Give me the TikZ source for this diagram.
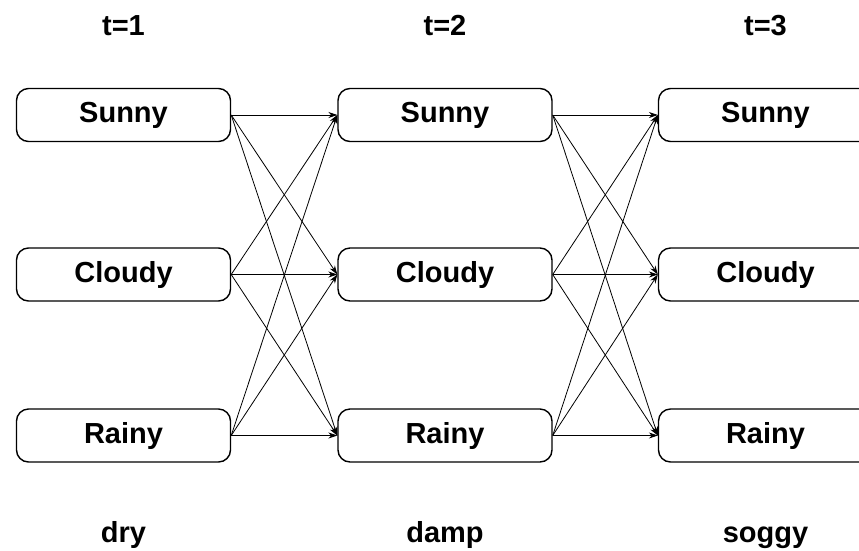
\documentclass[tikz,border=0pt]{standalone}
\usepackage{fontspec}
\setmainfont{Liberation Sans}
\usetikzlibrary{arrows.meta}
\begin{document}
\begin{tikzpicture}
        [x=1pt,y=-1pt,
         state/.style={draw,rounded corners=12pt,line width=1.4pt,
           minimum width=214pt,minimum height=53pt,inner sep=0pt,
           font=\bfseries\fontsize{29}{29}\selectfont},
         caption/.style={anchor=base,inner sep=0pt,
           font=\bfseries\fontsize{29}{29}\selectfont},
         trans/.style={-{Stealth[length=9pt,width=6pt]},line width=0.8pt}]
        \useasboundingbox (0,0) rectangle (859,550);
        \clip (0,0) rectangle (859,550);

        % one column of states per time step
        \foreach \t/\x/\obs in {1/123.5/dry,2/445/damp,3/765.5/soggy}
        {
          \node[caption] (time\t) at (\x,35) {t=\t};
          \node[state] (sunny\t) at (\x,115) {Sunny};
          \node[state] (cloudy\t) at (\x,274.5) {Cloudy};
          \node[state] (rainy\t) at (\x,435.5) {Rainy};
          \node[caption] (obs\t) at (\x,542) {\obs};
        }

        % every state leads to every state of the next step
        \foreach \a/\b in {1/2,2/3}
          \foreach \p in {sunny,cloudy,rainy}
            \foreach \q in {sunny,cloudy,rainy}
              {\draw[trans] (\p\a.east) -- (\q\b.west);}
      \end{tikzpicture}
\end{document}
